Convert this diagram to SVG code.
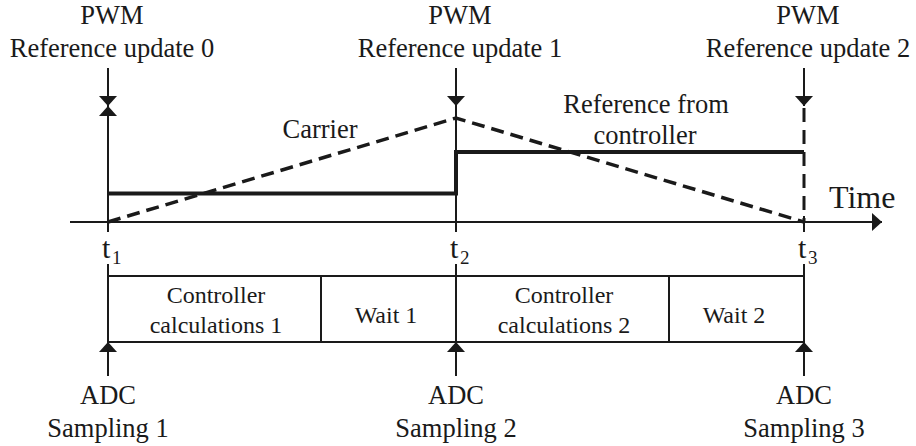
<svg xmlns="http://www.w3.org/2000/svg" width="916" height="446" viewBox="0 0 916 446">
<style>
.lbl{font-size:26.5px;text-anchor:middle}
.box{font-size:24px;text-anchor:middle}
.t{font-size:30px}
.sub{font-size:19px}
.thin{stroke:#1a1a1a;stroke-width:2;fill:none}
.thick{stroke:#1a1a1a;stroke-width:4;fill:none}
.dash{stroke:#1a1a1a;stroke-width:3.5;fill:none;stroke-dasharray:13 7}
.vdash{stroke:#1a1a1a;stroke-width:3;fill:none;stroke-dasharray:14 8}
</style>
<defs>
<marker id="ah" viewBox="0 0 10 18" refX="10" refY="9" markerWidth="10" markerHeight="18" markerUnits="userSpaceOnUse" orient="auto">
<path d="M0,0 L10,9 L0,18 z" fill="#1a1a1a"/>
</marker>
</defs>
<rect width="916" height="446" fill="#fff"/>

<g id="connectors">
<line class="thin" x1="70" y1="222" x2="882" y2="222" marker-end="url(#ah)"/>
<line class="thin" x1="108" y1="68" x2="108" y2="106" marker-end="url(#ah)"/>
<line class="thin" x1="456" y1="68" x2="456" y2="106" marker-end="url(#ah)"/>
<line class="thin" x1="804" y1="68" x2="804" y2="106" marker-end="url(#ah)"/>
<line class="thin" x1="108" y1="232" x2="108" y2="106" marker-end="url(#ah)"/>
<line class="thin" x1="456" y1="106" x2="456" y2="232"/>
<line class="vdash" x1="804" y1="108" x2="804" y2="222"/>
<line class="thin" x1="804" y1="216" x2="804" y2="232"/>
<polyline class="dash" points="108,222 456,118 804,222"/>
<polyline class="thick" points="108,193.5 456,193.5 456,152 804,152"/>
<line class="thin" x1="108" y1="264" x2="108" y2="342"/>
<line class="thin" x1="456" y1="264" x2="456" y2="342"/>
<line class="thin" x1="804" y1="264" x2="804" y2="342"/>
<line class="thin" x1="108" y1="376" x2="108" y2="342" marker-end="url(#ah)"/>
<line class="thin" x1="456" y1="376" x2="456" y2="342" marker-end="url(#ah)"/>
<line class="thin" x1="804" y1="376" x2="804" y2="342" marker-end="url(#ah)"/>
</g>

<g font-family="'Liberation Serif', 'DejaVu Serif', serif" fill="#1a1a1a">
<g id="pwm0"><text class="lbl" x="112" y="24">PWM</text><text class="lbl" x="112" y="57">Reference update 0</text></g>
<g id="pwm1"><text class="lbl" x="460" y="24">PWM</text><text class="lbl" x="460" y="57">Reference update 1</text></g>
<g id="pwm2"><text class="lbl" x="808" y="24">PWM</text><text class="lbl" x="808" y="57">Reference update 2</text></g>

<g id="carrier-label"><text class="lbl" x="320" y="138">Carrier</text></g>
<g id="reference-label"><text class="lbl" x="646" y="113">Reference from</text><text class="lbl" x="645" y="144">controller</text></g>
<g id="time-label"><text x="829" y="208" font-size="32">Time</text></g>

<g id="t1"><text class="t" x="102" y="258">t</text><text class="sub" x="112" y="264">1</text></g>
<g id="t2"><text class="t" x="450" y="258">t</text><text class="sub" x="460" y="264">2</text></g>
<g id="t3"><text class="t" x="798" y="258">t</text><text class="sub" x="808" y="264">3</text></g>

<g id="timeline-box">
<rect class="thin" x="108" y="276" width="696" height="66"/>
<line class="thin" x1="321" y1="276" x2="321" y2="342"/>
<line class="thin" x1="669" y1="276" x2="669" y2="342"/>
</g>
<g id="calc1"><text class="box" x="216" y="303">Controller</text><text class="box" x="216" y="333">calculations 1</text></g>
<g id="wait1"><text class="box" x="386" y="323">Wait 1</text></g>
<g id="calc2"><text class="box" x="564" y="303">Controller</text><text class="box" x="564" y="333">calculations 2</text></g>
<g id="wait2"><text class="box" x="734" y="323">Wait 2</text></g>

<g id="adc1"><text class="lbl" x="108" y="404">ADC</text><text class="lbl" x="108" y="437">Sampling 1</text></g>
<g id="adc2"><text class="lbl" x="456" y="404">ADC</text><text class="lbl" x="456" y="437">Sampling 2</text></g>
<g id="adc3"><text class="lbl" x="804" y="404">ADC</text><text class="lbl" x="804" y="437">Sampling 3</text></g>
</g>
</svg>
